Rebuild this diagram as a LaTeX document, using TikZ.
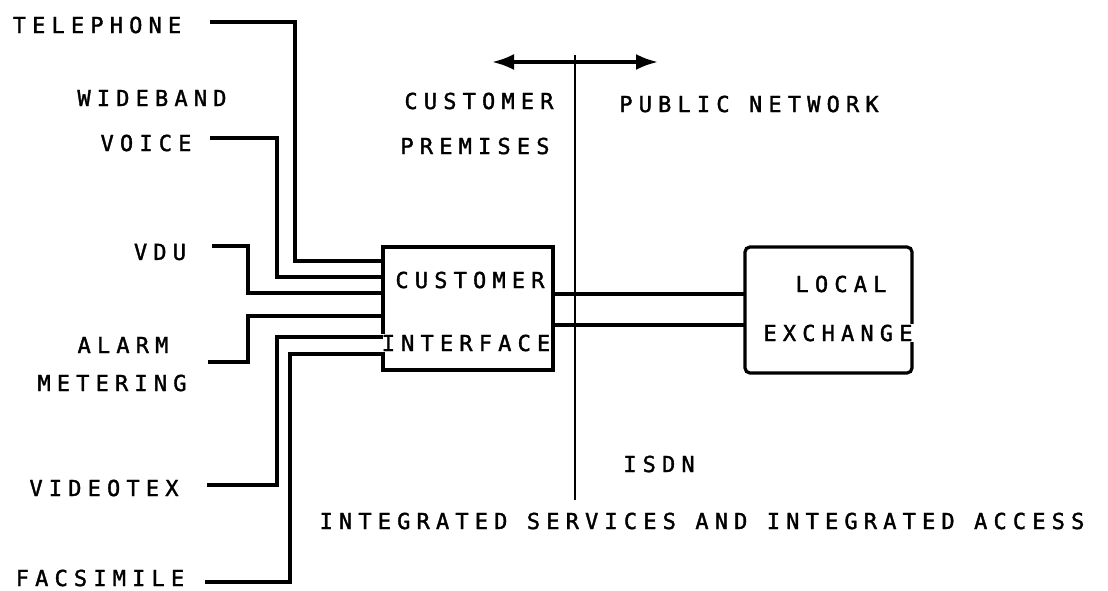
\documentclass[tikz,border=0pt]{standalone}
\usepackage{fontspec}
\setmainfont{DejaVu Sans Mono}[LetterSpace=28,FakeBold=1.6]
\usetikzlibrary{arrows.meta}
\begin{document}
\begin{tikzpicture}[x=1pt,y=-1pt,
  lbl/.style={inner sep=0pt,font=\fontsize{22}{22}\selectfont},
  wire/.style={line width=3.2pt,line join=miter},
  boxline/.style={line width=3.2pt},
  divider/.style={line width=2.4pt}]
\useasboundingbox[fill=white] (0,0) rectangle (1108,591);

% terminal labels
\node[lbl] (tel)  at (97,25)  {TELEPHONE};
\node[lbl] (wide) at (152,98)  {WIDEBAND};
\node[lbl] (voi)  at (146,143) {VOICE};
\node[lbl] (vdu)  at (160,252) {VDU};
\node[lbl] (alm)  at (123,345) {ALARM};
\node[lbl] (met)  at (112,383) {METERING};
\node[lbl] (vtx)  at (104,488) {VIDEOTEX};
\node[lbl] (fax)  at (100,578) {FACSIMILE};

% customer interface and local exchange
\draw[boxline] (383,247) rectangle (553,370);
\draw[boxline,rounded corners=5pt] (745,247) rectangle (912,373);
\node[inner sep=0pt,minimum width=170pt,minimum height=123pt] (ci) at (468,308.5) {};
\node[inner sep=0pt,minimum width=167pt,minimum height=126pt] (le) at (828.5,310) {};
\node[lbl,fill=white,inner sep=1pt] (ciA) at (470,280) {CUSTOMER};
\node[lbl,fill=white,inner sep=1pt] (ciB) at (466,343) {INTERFACE};
\node[lbl] (leA) at (841,284) {LOCAL};
\node[lbl,fill=white,inner sep=1pt] (leB) at (838,333) {EXCHANGE};

% line start points beside the labels
\coordinate (t0) at (210,22);
\coordinate (w0) at (210,138);
\coordinate (d0) at (212,246);
\coordinate (a0) at (208,362);
\coordinate (v0) at (207,485);
\coordinate (f0) at (205,582);

% entry points on the interface
\coordinate (t1) at (383,261);
\coordinate (w1) at (383,277);
\coordinate (d1) at (383,293);
\coordinate (a1) at (383,316);
\coordinate (v1) at (383,337);
\coordinate (f1) at (383,354);

\draw[wire] (t0) -| (295,261) -- (t1);
\draw[wire] (w0) -| (277,277) -- (w1);
\draw[wire] (d0) -| (248,293) -- (d1);
\draw[wire] (a0) -| (248,316) -- (a1);
\draw[wire] (v0) -| (277,337) -- (v1);
\draw[wire] (f0) -| (290,354) -- (f1);

% links to the exchange
\draw[wire] (ci.east |- 0,294) -- (le.west |- 0,294);
\draw[wire] (ci.east |- 0,325) -- (le.west |- 0,325);

% boundary between customer premises and public network
\coordinate (bt) at (575,55);
\coordinate (bb) at (575,500);
\draw[divider] (bt) -- (bb);
\coordinate (ar) at (492,62);
\coordinate (al) at (658,62);
\draw[line width=3.4pt,{Latex[length=22pt,width=16pt]}-{Latex[length=22pt,width=16pt]}] (ar) -- (al);

\node[lbl] (cp1) at (479,101) {CUSTOMER};
\node[lbl] (cp2) at (475,146) {PREMISES};
\node[lbl] (pn)  at (749,104) {PUBLIC NETWORK};
\node[lbl] (isdn) at (659,464) {ISDN};
\node[lbl] (isia) at (702,521) {INTEGRATED SERVICES AND INTEGRATED ACCESS};
\end{tikzpicture}
\end{document}
